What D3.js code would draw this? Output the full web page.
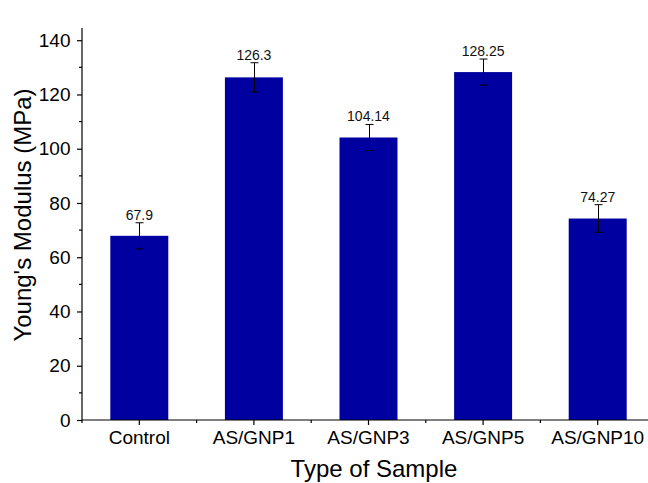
<!DOCTYPE html>
<html>
<head>
<meta charset="utf-8">
<script src="https://cdn.jsdelivr.net/npm/d3@7"></script>
<style>
  html, body { margin: 0; padding: 0; background: #fff; }
  svg { display: block; }
  text { font-family: "Liberation Sans", Arial, sans-serif; }
</style>
</head>
<body>
<svg id="chart" width="648" height="483"></svg>
<script>
// Young's modulus of the sample series (MPa) with standard deviations
const categories = ["Control", "AS/GNP1", "AS/GNP3", "AS/GNP5", "AS/GNP10"];
const modulus = [67.9, 126.3, 104.14, 128.25, 74.27];
const errors = [4.8, 5.4, 4.8, 4.8, 5.1];
const yTicks = [0, 20, 40, 60, 80, 100, 120, 140];
const yMinorTicks = [10, 30, 50, 70, 90, 110, 130];

const svg = d3.select("#chart");
const mLeft = 82, mBottom = 420, mTop = 28, plotW = 573;

const x = d3.scaleBand()
  .domain(categories)
  .range([mLeft, mLeft + plotW])
  .paddingInner(0.494)
  .paddingOuter(0.247);

const y = d3.scaleLinear().domain([0, 144.5]).range([mBottom, mTop]);

// bars
svg.append("g").selectAll("rect")
  .data(categories)
  .join("rect")
  .attr("x", d => x(d))
  .attr("width", x.bandwidth())
  .attr("y", (d, i) => y(modulus[i]))
  .attr("height", (d, i) => y(0) - y(modulus[i]))
  .attr("fill", "#0000a0");

// error bars
const eb = svg.append("g").attr("stroke", "#000").attr("stroke-width", 1);
categories.forEach((c, i) => {
  const cx = Math.round(x(c) + x.bandwidth() / 2) + 0.5;
  const hi = y(modulus[i] + errors[i]), lo = y(modulus[i] - errors[i]);
  eb.append("line").attr("x1", cx).attr("x2", cx).attr("y1", hi).attr("y2", lo);
  eb.append("line").attr("x1", cx - 4).attr("x2", cx + 4).attr("y1", hi).attr("y2", hi);
  eb.append("line").attr("x1", cx - 4).attr("x2", cx + 4).attr("y1", lo).attr("y2", lo);
});

// value labels
svg.append("g").selectAll("text")
  .data(categories)
  .join("text")
  .attr("x", d => x(d) + x.bandwidth() / 2)
  .attr("y", (d, i) => y(modulus[i] + errors[i]) - 3)
  .attr("text-anchor", "middle")
  .attr("font-size", 14)
  .attr("fill", "#111")
  .text((d, i) => String(modulus[i]));

// y axis
const yAxis = svg.append("g")
  .attr("transform", `translate(${mLeft},0)`)
  .call(d3.axisLeft(y).tickValues(yTicks).tickSize(5).tickPadding(6.5).tickFormat(d3.format("d")));
yAxis.select(".domain").attr("d", `M0,${mTop}V${mBottom}`);
yAxis.selectAll(".tick text").attr("font-size", 19).attr("font-family", "Liberation Sans, Arial, sans-serif").attr("fill", "#000");
yAxis.selectAll("line, path").attr("stroke", "#000").attr("stroke-width", 1.2);
yAxis.append("g").selectAll("line")
  .data(yMinorTicks)
  .join("line")
  .attr("x1", 0).attr("x2", -3)
  .attr("y1", d => y(d)).attr("y2", d => y(d))
  .attr("stroke", "#000").attr("stroke-width", 1.2);

// x axis
const xAxis = svg.append("g")
  .attr("transform", `translate(0,${mBottom})`)
  .call(d3.axisBottom(x).tickSize(5).tickPadding(6));
xAxis.select(".domain").attr("d", `M${mLeft},0H${mLeft + plotW}`);
xAxis.selectAll(".tick text").attr("font-size", 19).attr("font-family", "Liberation Sans, Arial, sans-serif").attr("fill", "#000");
xAxis.selectAll("line, path").attr("stroke", "#000").attr("stroke-width", 1.2);
xAxis.append("g").selectAll("line")
  .data(d3.range(categories.length + 1))
  .join("line")
  .attr("x1", i => mLeft + i * x.step()).attr("x2", i => mLeft + i * x.step())
  .attr("y1", 0).attr("y2", 3)
  .attr("stroke", "#000").attr("stroke-width", 1.2);

// axis titles
svg.append("text")
  .attr("transform", "translate(31,215) rotate(-90)")
  .attr("text-anchor", "middle")
  .attr("font-size", 24)
  .attr("fill", "#000")
  .text("Young's Modulus (MPa)");

svg.append("text")
  .attr("x", 374).attr("y", 477)
  .attr("text-anchor", "middle")
  .attr("font-size", 24)
  .attr("fill", "#000")
  .text("Type of Sample");
</script>
</body>
</html>
